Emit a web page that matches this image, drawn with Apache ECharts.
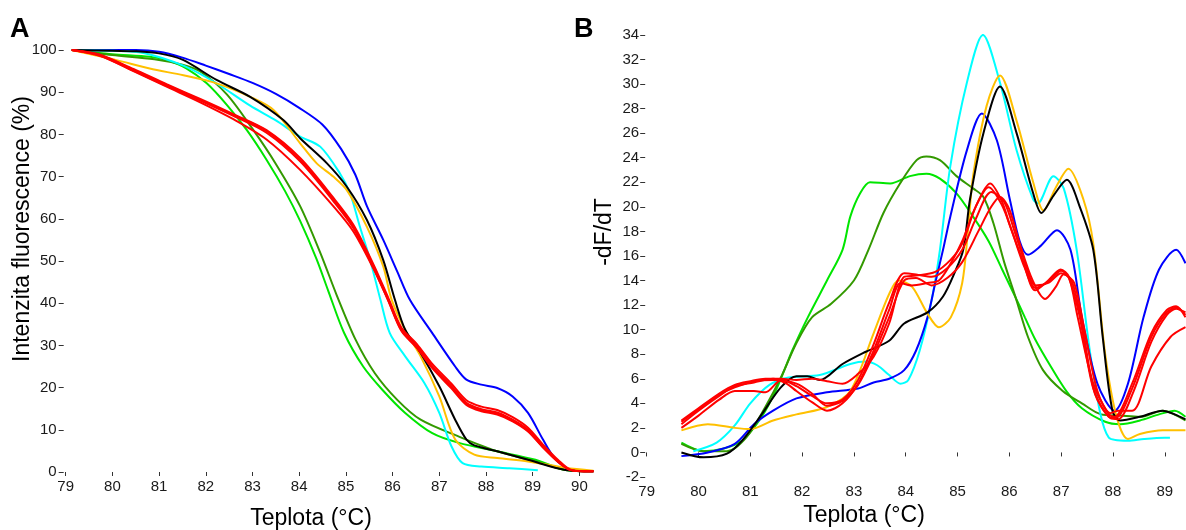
<!DOCTYPE html>
<html><head><meta charset="utf-8">
<script src="https://cdn.jsdelivr.net/npm/echarts@6/dist/echarts.min.js"></script>
<style>html,body{margin:0;padding:0;background:#fff}#c{width:1186px;height:530px}</style>
</head><body><div id="c"></div>
<script>
// ---------- Tick labels ----------
const aXTicks = [79,80,81,82,83,84,85,86,87,88,89,90];
const bXTicks = [79,80,81,82,83,84,85,86,87,88,89];

// ---------- Panel A: fluorescence intensity (%) ----------
const aBlueT  = [79.13,80.0,80.5,81.0,81.5,82.0,82.5,83.0,83.5,84.0,84.5,84.9,85.2,85.45,85.8,86.1,86.37,86.85,87.34,87.58,87.9,88.24,88.57,88.9,89.22,89.47,89.8,90.1,90.3];
const aBlueV  = [100,100,100,99.6,98.2,96.3,94.3,92.2,89.6,86.3,82.3,76.5,70.5,63,55,47.5,40.8,32.9,25,21.9,20.7,19.9,17.9,14,7.7,3.3,0.5,0.2,0.2];

const aBlackT = [79.13,80.0,80.5,81.0,81.5,82.23,82.95,83.66,84.02,84.59,85.02,85.45,85.8,86.05,86.27,86.6,87.0,87.34,87.58,87.75,88.24,88.9,89.7,90.3];
const aBlackV = [100,99.8,99.7,99.2,97.7,92.9,88.9,83.4,79.1,73.2,67.6,59.7,50.2,40.8,33.7,28.2,20.3,12.4,7.7,6.3,4.9,2.9,0.5,0.2];

const aOrangeT = [79.13,80.09,80.8,81.52,82.23,82.95,83.45,84.02,84.37,84.73,85.02,85.45,85.8,85.98,86.3,86.6,87.0,87.34,87.75,88.24,88.9,89.7,90.3];
const aOrangeV = [100,97.6,95.6,94,92.1,88.9,85.8,77.9,73.2,70,66.8,58.1,48.7,40.8,33,27.4,17.9,7.7,4.1,3.3,2.5,1,0.3];

const aCyanT = [79.13,80.0,80.66,81.52,82.2,82.95,83.5,84.02,84.45,84.87,85.09,85.3,85.52,85.74,85.94,86.27,86.68,87.0,87.26,87.5,87.9,88.5,89.11];
const aCyanV = [100,99.8,99.3,96.3,92.3,86.8,83.3,79.5,77.1,70.8,66,58.1,50.2,40.8,32.9,27.4,21.1,14,6.1,2.1,1.3,0.9,0.4];

const aRedT  = [79.13,79.73,80.45,81.16,81.88,82.59,83.3,84.02,84.73,85.16,85.59,85.91,86.19,86.52,86.85,87.26,87.58,87.9,88.24,88.57,88.9,89.22,89.55,89.8,90.1,90.3];
const aRed1V = [100,98.9,95.5,91.9,88.4,84.8,81.0,74.4,65.0,58.6,49.2,41.2,34.2,30.3,25.6,20.9,17.0,15.5,14.7,13.0,10.5,6.5,2.8,0.6,0.2,0.2];
const aRed2V = [100,98.7,95.1,91.5,88.0,84.4,80.4,73.6,64.2,57.8,48.4,40.5,33.4,29.4,24.6,19.8,15.9,14.4,13.6,12.0,9.6,5.8,2.3,0.5,0.2,0.2];
const aRed3V = [100,98.8,95.3,91.7,88.2,84.6,80.8,73.9,64.6,58.2,48.8,40.8,33.7,29.8,25.0,20.3,16.4,14.9,14.1,12.4,10.0,6.1,2.5,0.5,0.2,0.2];
const aRed4V = [100,98.6,95.0,91.3,87.6,83.6,78.8,71.6,63.0,57.0,48.2,40.6,33.6,29.6,24.9,20.2,16.2,14.6,13.8,12.2,9.8,5.9,2.4,0.5,0.2,0.2];

const aLimeT = [79.13,80.0,80.8,81.16,81.59,82.02,82.45,82.88,83.3,83.7,84.02,84.37,84.62,84.96,85.37,85.78,86.27,86.85,87.42,88.24,89.06,89.7,90.3];
const aLimeV = [100,99,98.4,97.6,95.6,92.1,87,81,74,66.5,59.5,50.5,43,33,25,19.5,14,9.2,6.9,4.9,2.9,0.5,0.2];

const aDkGreenT = [79.13,80.0,80.9,81.5,81.88,82.45,83.02,83.5,84.02,84.45,84.8,85.21,85.62,86.1,86.6,87.42,88.24,89.06,89.7,90.3];
const aDkGreenV = [100,98.8,97.8,96.5,94.9,89.5,81,73,63,52,42,31.3,23.4,17.1,12.4,8.4,4.9,2.5,0.5,0.2];

// ---------- Panel B: -dF/dT ----------
const bCyanT = [79.9,80.35,80.7,81.0,81.37,81.74,82.34,82.93,83.23,83.45,83.68,83.9,84.05,84.27,84.5,84.66,84.86,85.18,85.49,85.82,86.14,86.46,86.55,86.85,87.05,87.3,87.6,87.92,88.29,88.6,89.0,89.1];
const bCyanV = [0.1,0.8,2.2,4.0,5.5,6.1,6.3,7.2,7.4,7.1,6.3,5.6,5.9,8.3,12.4,16.5,23.3,30.1,34,30.1,24.6,20.6,20.3,22.5,21.5,16.5,7,1.2,0.95,1.1,1.2,1.2];

const bBlackT = [79.67,80.1,80.55,80.85,81.22,81.59,81.89,82.1,82.34,82.78,83.23,83.68,83.97,84.42,84.72,84.94,85.11,85.24,85.5,85.82,86.14,86.46,86.62,86.85,87.11,87.36,87.62,87.8,87.99,88.14,88.52,88.96,89.19,89.4];
const bBlackV = [0,-0.4,-0.1,1,3.1,5.3,6.2,6.2,5.9,7.2,8.2,9.1,10.5,11.4,12.7,14.6,16.5,20.6,26,29.8,26,21.1,19.5,20.9,22.2,20,16.5,9.5,3.4,2.6,2.9,3.4,3.1,2.7];

const bOrangeT = [79.67,80.18,80.7,81.0,81.44,81.89,82.48,82.93,83.38,83.68,83.86,84.12,84.42,84.64,84.87,85.09,85.2,85.3,85.56,85.82,86.14,86.46,86.66,86.9,87.14,87.43,87.62,87.85,88.07,88.29,88.52,88.96,89.4];
const bOrangeV = [1.8,2.3,2.0,1.9,2.6,3.1,3.7,5.0,9.7,12.9,14.0,13.5,11.3,10.2,11,13.8,18,22.5,28.2,30.7,27,22,19.7,21.6,23.1,20.6,17,8,2.9,1.1,1.5,1.8,1.8];

const bBlueT = [79.67,80.18,80.7,81.07,81.44,81.89,82.48,83.08,83.38,83.68,83.97,84.2,84.42,84.57,84.72,84.86,85.18,85.47,85.76,86.01,86.2,86.36,86.6,86.92,87.18,87.4,87.7,88.03,88.29,88.59,88.89,89.22,89.4];
const bBlueV = [-0.3,0,0.7,2.3,3.4,4.4,4.9,5.2,5.7,6.0,6.7,8.3,11,13.8,16.5,19.2,24.6,27.6,25.4,20.6,17.2,16.1,16.8,18.1,16.5,11,5.6,3.4,5.6,11,14.9,16.5,15.4];

const bRed1T = [79.67,80.0,80.4,80.7,81.0,81.29,81.6,81.89,82.19,82.48,82.78,83.08,83.38,83.68,83.97,84.2,84.57,84.87,85.09,85.35,85.63,85.85,86.01,86.27,86.5,86.75,86.99,87.15,87.32,87.62,87.92,88.03,88.37,88.74,89.04,89.22,89.4];
const bRed1V = [2.6,3.6,4.8,5.5,5.8,6.0,6.0,5.9,6.0,5.8,5.6,6.4,7.8,10.5,14.3,14.4,14.7,15.7,17,20,21.9,20.5,18.5,15.5,13.2,14.0,14.9,14.3,11,5.6,3.1,2.9,5.6,9.7,11.6,11.9,11];

const bRed2T = [79.67,80.0,80.4,80.7,81.07,81.44,81.7,81.89,82.19,82.48,82.78,83.08,83.38,83.68,83.9,84.12,84.42,84.64,84.87,85.09,85.35,85.6,85.85,86.05,86.3,86.5,86.75,87.0,87.15,87.35,87.62,87.92,88.05,88.37,88.74,89.04,89.22,89.4];
const bRed2V = [2.3,3.4,4.6,5.4,5.7,6.0,5.6,5.0,4.1,3.4,4.0,5.6,8.3,11.6,13.8,13.6,13.8,14.0,15.4,17.2,20,21.6,20.2,18,15,13.4,13.9,14.8,14.2,11.2,5.2,2.9,2.8,5.2,9.4,11.4,11.8,11.2];

const bRed3T = [79.67,80.0,80.4,80.7,81.07,81.29,81.6,81.89,82.19,82.48,82.78,83.08,83.38,83.68,83.97,84.2,84.5,84.8,85.09,85.35,85.65,85.9,86.1,86.3,86.5,86.75,87.0,87.2,87.4,87.65,87.95,88.1,88.4,88.74,89.04,89.22,89.4];
const bRed3V = [2.0,3.0,4.3,5.0,5.0,4.9,5.9,5.4,4.6,4.0,4.3,5.9,8.8,12.2,14.6,14.5,14.3,15.0,16.5,19,21.2,20.4,18,15.5,13.6,13.8,14.6,14,10.5,4.8,2.8,2.7,5.0,9.0,11.2,11.7,11.4];

const bRed4T = [79.67,80.0,80.4,80.7,81.07,81.44,81.89,82.19,82.48,82.78,83.08,83.38,83.68,83.97,84.2,84.5,84.8,85.09,85.4,85.65,85.82,86.0,86.2,86.45,86.69,86.9,87.05,87.25,87.45,87.7,87.95,88.1,88.37,88.74,89.11,89.4];
const bRed4V = [2.5,3.5,4.7,5.3,5.8,5.9,5.6,4.8,3.8,4.2,5.5,8.0,11.0,14.0,14.2,13.6,14.2,15.5,18,20,20.8,19.8,17,14,12.5,13.5,14.5,13.8,10,5,3.2,3.4,3.4,7.0,9.4,10.2];

const bLimeT = [79.67,80.1,80.47,80.85,81.22,81.52,81.81,82.11,82.48,82.78,82.93,83.12,83.31,83.7,84.08,84.4,84.66,84.98,85.3,85.6,85.85,86.1,86.3,86.5,86.8,87.1,87.4,87.85,88.14,88.52,88.89,89.19,89.4];
const bLimeV = [0.8,0.1,0.3,1.0,2.9,5.3,8.3,11,14,16.5,19.2,21.1,22.0,21.9,22.5,22.7,22.3,21.1,19.2,17.2,15,12.8,11,9.2,7,5,3.6,2.5,2.3,2.6,3.1,3.4,2.9];

const bDkGreenT = [79.67,80.1,80.55,80.92,81.29,81.59,81.89,82.19,82.56,83.0,83.28,83.57,83.89,84.21,84.4,84.66,84.98,85.3,85.5,85.69,85.9,86.13,86.36,86.65,87.03,87.4,87.77,88.14,88.52,88.96,89.4];
const bDkGreenV = [0.7,0.1,0.1,1.2,3.7,6.1,8.9,11,12.1,14,16.5,19.5,21.9,23.8,24.1,23.8,22.5,21.5,20.8,18.7,15.5,12.5,9.4,6.7,5.0,4.0,3.1,3.0,2.9,3.4,2.6];

// ---------- Chart ----------
const FONT = '"Liberation Sans", Arial, sans-serif';
const COL = {blue:'#0000ff', black:'#000000', orange:'#ffc000', cyan:'#00ffff', red:'#ff0000', lime:'#00e600', dkgreen:'#339900'};

function pts(t, v){ return t.map((x, i) => [x, v[i]]); }
function line(name, idx, t, v, color, z){
  return {name, type:'line', xAxisIndex:idx, yAxisIndex:idx, data:pts(t, v),
    showSymbol:false, symbol:'none', smooth:0.3, animation:false, z:z||2,
    lineStyle:{color, width:2}, itemStyle:{color}};
}

const series = [
  line('A modrá', 0, aBlueT, aBlueV, COL.blue),
  line('A světle zelená', 0, aLimeT, aLimeV, COL.lime),
  line('A tmavě zelená', 0, aDkGreenT, aDkGreenV, COL.dkgreen),
  line('A azurová', 0, aCyanT, aCyanV, COL.cyan),
  line('A oranžová', 0, aOrangeT, aOrangeV, COL.orange),
  line('A černá', 0, aBlackT, aBlackV, COL.black),
  line('A červená 1', 0, aRedT, aRed1V, COL.red, 3),
  line('A červená 2', 0, aRedT, aRed2V, COL.red, 3),
  line('A červená 3', 0, aRedT, aRed3V, COL.red, 3),
  line('A červená 4', 0, aRedT, aRed4V, COL.red, 3),

  line('B světle zelená', 1, bLimeT, bLimeV, COL.lime),
  line('B tmavě zelená', 1, bDkGreenT, bDkGreenV, COL.dkgreen),
  line('B azurová', 1, bCyanT, bCyanV, COL.cyan),
  line('B modrá', 1, bBlueT, bBlueV, COL.blue),
  line('B oranžová', 1, bOrangeT, bOrangeV, COL.orange),
  line('B černá', 1, bBlackT, bBlackV, COL.black),
  line('B červená 1', 1, bRed1T, bRed1V, COL.red, 3),
  line('B červená 2', 1, bRed2T, bRed2V, COL.red, 3),
  line('B červená 3', 1, bRed3T, bRed3V, COL.red, 3),
  line('B červená 4', 1, bRed4T, bRed4V, COL.red, 3)
];

const labelStyle = {color:'#1a1a1a', fontSize:15, fontFamily:FONT};
const tickStyle = {color:'#333', width:1};

const option = {
  backgroundColor:'#ffffff',
  animation:false,
  grid:[
    {left:65.7, top:50, width:527.7, height:422},
    {left:646.7, top:34.9, width:539.3, height:442.1}
  ],
  xAxis:[
    {type:'value', gridIndex:0, min:79, max:90.3, interval:1, offset:1,
     axisLine:{show:false}, splitLine:{show:false},
     axisTick:{show:true, length:4, lineStyle:tickStyle, customValues:aXTicks},
     axisLabel:Object.assign({margin:6, customValues:aXTicks}, labelStyle)},
    {type:'value', gridIndex:1, min:79, max:89.41, interval:1, offset:1,
     axisLine:{show:false}, splitLine:{show:false},
     axisTick:{show:true, length:4, lineStyle:tickStyle, customValues:bXTicks},
     axisLabel:Object.assign({margin:6, customValues:bXTicks}, labelStyle)}
  ],
  yAxis:[
    {type:'value', gridIndex:0, min:0, max:100, interval:10, offset:2,
     axisLine:{show:false}, splitLine:{show:false},
     axisTick:{show:true, length:5, lineStyle:tickStyle},
     axisLabel:Object.assign({margin:7}, labelStyle)},
    {type:'value', gridIndex:1, min:-2, max:34, interval:2, offset:1.5,
     axisLine:{show:false}, splitLine:{show:false},
     axisTick:{show:true, length:5, lineStyle:tickStyle},
     axisLabel:Object.assign({margin:6}, labelStyle)}
  ],
  graphic:[
    {type:'text', left:10, top:16, style:{text:'A', fontSize:27, fontWeight:'bold', fontFamily:FONT, fill:'#000'}},
    {type:'text', left:574, top:16, style:{text:'B', fontSize:27, fontWeight:'bold', fontFamily:FONT, fill:'#000'}},
    {type:'text', x:311, y:519, style:{text:'Teplota (°C)', fontSize:23, fontFamily:FONT, fill:'#000', align:'center', verticalAlign:'middle'}},
    {type:'text', x:864, y:516, style:{text:'Teplota (°C)', fontSize:23, fontFamily:FONT, fill:'#000', align:'center', verticalAlign:'middle'}},
    {type:'text', x:23, y:229, rotation:Math.PI/2, style:{text:'Intenzita fluorescence (%)', fontSize:23, fontFamily:FONT, fill:'#000', align:'center', verticalAlign:'middle'}},
    {type:'text', x:604.5, y:232, rotation:Math.PI/2, style:{text:'-dF/dT', fontSize:23, fontFamily:FONT, fill:'#000', align:'center', verticalAlign:'middle'}}
  ],
  series
};

const chart = echarts.init(document.getElementById('c'), null, {renderer:'canvas'});
chart.setOption(option);
</script></body></html>
